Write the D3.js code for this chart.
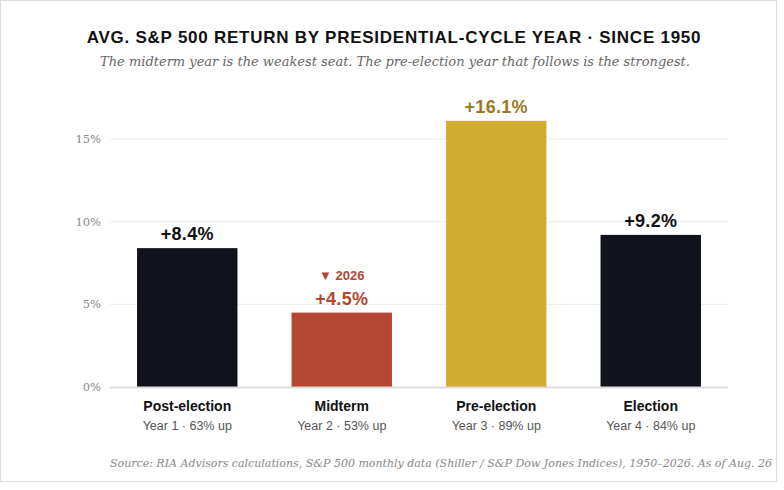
<!DOCTYPE html><html><head><meta charset="utf-8">
<script src="https://cdn.jsdelivr.net/npm/d3@7"></script>
<style>body{margin:0;background:#fff}</style></head><body>
<svg id="c" width="784" height="490"></svg>
<script>
const categories=["Post-election","Midterm","Pre-election","Election"];
const subLabels=["Year 1 · 63% up","Year 2 · 53% up","Year 3 · 89% up","Year 4 · 84% up"];
const values=[8.4,4.5,16.1,9.2];
const colors=["#10131b","#b34732","#d3ad33","#10131b"];
const labelColors=["#111","#b34732","#9a7a1c","#111"];
const ticks=[0,5,10,15];
const svg=d3.select("#c");
svg.append("rect").attr("x",0.5).attr("y",0.5).attr("width",776).attr("height",481).attr("fill","none").attr("stroke","#ddd");
const x=d3.scaleBand().domain(categories).range([110,728]).paddingInner(0.35).paddingOuter(0.175);
const y=d3.scaleLinear().domain([0,15]).range([387,139]);
svg.append("text").attr("x",394).attr("y",43).attr("text-anchor","middle").attr("font-family","Liberation Sans,Arial").attr("font-weight","bold").attr("font-size",17).attr("letter-spacing",0.75).attr("fill","#111").text("AVG. S&P 500 RETURN BY PRESIDENTIAL-CYCLE YEAR · SINCE 1950");
svg.append("text").attr("x",395).attr("y",66).attr("text-anchor","middle").attr("font-family","DejaVu Serif,serif").attr("font-style","italic").attr("font-size",13).attr("fill","#666").text("The midterm year is the weakest seat. The pre-election year that follows is the strongest.");
const g=svg.append("g");
ticks.forEach(t=>{
 if(t>0) g.append("line").attr("x1",110).attr("x2",728).attr("y1",y(t)).attr("y2",y(t)).attr("stroke","#ececec");
 g.append("text").attr("x",101).attr("y",y(t)+4).attr("text-anchor","end").attr("font-family","DejaVu Serif,serif").attr("font-size",11.5).attr("fill","#888").text(t+"%");
});
g.selectAll(".b").data(values).enter().append("rect").attr("x",(d,i)=>x(categories[i])).attr("width",x.bandwidth()).attr("y",d=>y(d)).attr("height",d=>y(0)-y(d)).attr("fill",(d,i)=>colors[i]);
g.append("line").attr("x1",110).attr("x2",728).attr("y1",387.5).attr("y2",387.5).attr("stroke","#ddd").attr("stroke-width",2);
g.selectAll(".v").data(values).enter().append("text").attr("x",(d,i)=>x(categories[i])+x.bandwidth()/2).attr("y",d=>y(d)-8).attr("text-anchor","middle").attr("font-family","Liberation Sans,Arial").attr("font-weight","bold").attr("font-size",18).attr("letter-spacing",0.3).attr("fill",(d,i)=>labelColors[i]).text(d=>"+"+d.toFixed(1)+"%");
g.append("text").attr("x",x("Midterm")+x.bandwidth()/2).attr("y",y(4.5)-33).attr("text-anchor","middle").attr("font-family","Liberation Sans,Arial").attr("font-weight","bold").attr("font-size",13).attr("fill","#b34732").text("▼ 2026");
categories.forEach((c,i)=>{
 const cx=x(c)+x.bandwidth()/2;
 g.append("text").attr("x",cx).attr("y",411).attr("text-anchor","middle").attr("font-family","Liberation Sans,Arial").attr("font-weight","bold").attr("font-size",14).attr("fill","#111").text(c);
 g.append("text").attr("x",cx).attr("y",430).attr("text-anchor","middle").attr("font-family","Liberation Sans,Arial").attr("font-size",12.5).attr("fill","#555").text(subLabels[i]);
});
svg.append("text").attr("x",110).attr("y",467).attr("font-family","DejaVu Serif,serif").attr("font-style","italic").attr("font-size",11).attr("fill","#888").text("Source: RIA Advisors calculations, S&P 500 monthly data (Shiller / S&P Dow Jones Indices), 1950–2026. As of Aug. 26");
</script></body></html>
